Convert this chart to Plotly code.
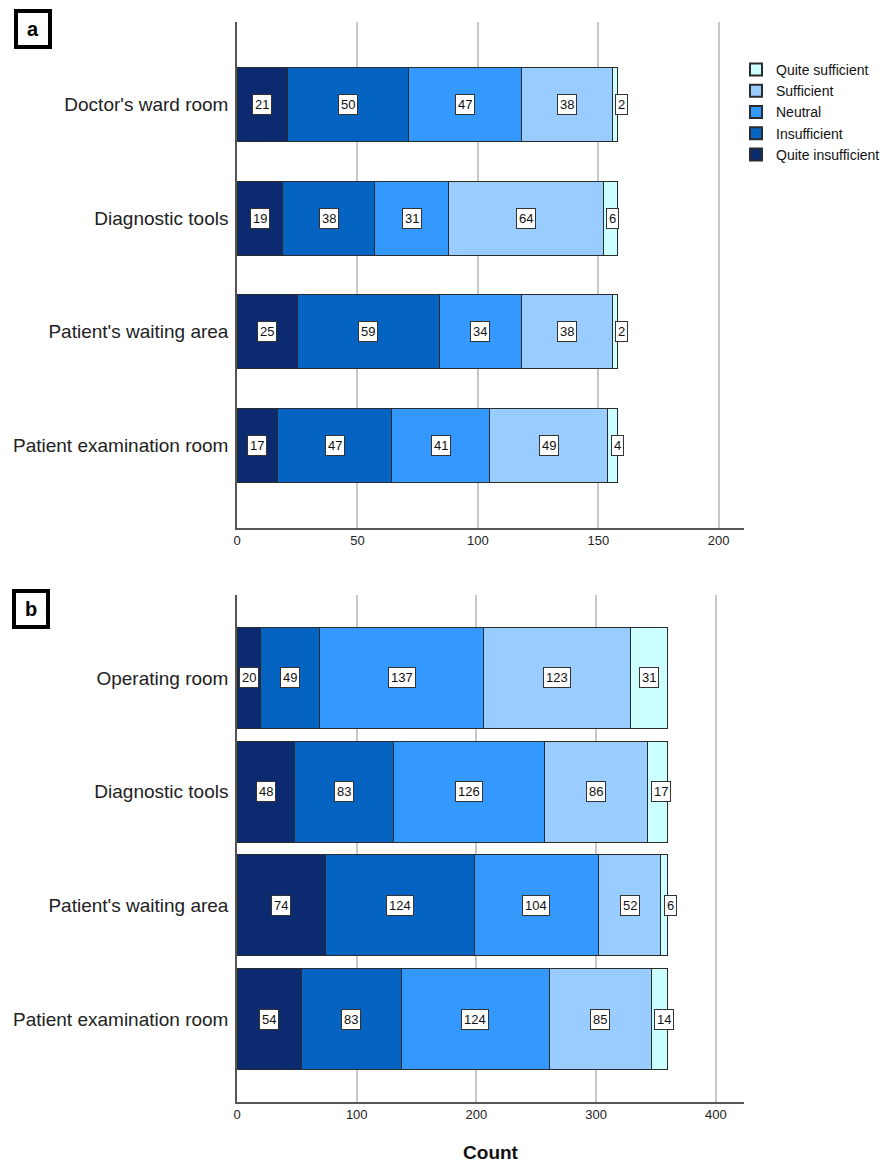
import plotly.graph_objects as go

levels = ["Quite insufficient", "Insufficient", "Neutral", "Sufficient", "Quite sufficient"]
colors = ["#0B2A6F", "#0563C1", "#3399FF", "#99CCFF", "#CCFFFF"]

cats_a = ["Doctor's ward room", "Diagnostic tools", "Patient's waiting area", "Patient examination room"]
vals_a = {
    "Quite insufficient": [21, 19, 25, 17],
    "Insufficient": [50, 38, 59, 47],
    "Neutral": [47, 31, 34, 41],
    "Sufficient": [38, 64, 38, 49],
    "Quite sufficient": [2, 6, 2, 4],
}

cats_b = ["Operating room", "Diagnostic tools", "Patient's waiting area", "Patient examination room"]
vals_b = {
    "Quite insufficient": [20, 48, 74, 54],
    "Insufficient": [49, 83, 124, 83],
    "Neutral": [137, 126, 104, 124],
    "Sufficient": [123, 86, 52, 85],
    "Quite sufficient": [31, 17, 6, 14],
}

ticks_a = [0, 50, 100, 150, 200]
ticks_b = [0, 100, 200, 300, 400]

# page has an 8px body offset; margins compensate
OFF = 8
W, H = 893, 1165
ML, MR, MT, MB = 237 - OFF, 893 - 744 + OFF, 22 - OFF, 1165 - 1102 + OFF
plot_w = W - ML - MR
plot_h = H - MT - MB
range_a = [0, 210.5]
range_b = [0, 423.5]
FONT = "Liberation Sans, Arial"

fig = go.Figure()
annotations = []

def add_panel(cats, vals, xaxis, yaxis, showlegend, width, xr):
    scale = plot_w / (xr[1] - xr[0])
    cum = [0] * len(cats)
    for lvl, col in zip(levels, colors):
        v = vals[lvl]
        fig.add_trace(go.Bar(
            y=cats, x=v, orientation="h", name=lvl,
            marker=dict(color=col, line=dict(color="#2b2b2b", width=1)),
            width=width, xaxis=xaxis, yaxis=yaxis, showlegend=showlegend,
            legendgroup=lvl, hoverinfo="x+name",
        ))
        for i, c in enumerate(cats):
            mid = cum[i] + v[i] / 2
            lw = 7.5 * len(str(v[i])) + 7
            segw = v[i] * scale
            xs = max(0, (lw - segw) / 2 + 2) if segw < lw else 0
            annotations.append(dict(
                x=mid, y=c, xref=xaxis, yref=yaxis, text=str(v[i]),
                showarrow=False, xshift=xs,
                font=dict(family=FONT, size=13, color="#111"),
                bgcolor="white", bordercolor="#333", borderwidth=1, borderpad=2,
            ))
            cum[i] += v[i]

add_panel(cats_a, vals_a, "x", "y", True, 0.65, range_a)
add_panel(cats_b, vals_b, "x2", "y2", False, 0.89, range_b)

dom_a = [1 - 506 / plot_h, 1]
dom_b = [0, 1 - 573 / plot_h]

axis_common = dict(
    showgrid=True, gridcolor="#c8c8c8", gridwidth=1.5,
    showline=True, linecolor="#555", linewidth=1.5, automargin=False,
    zeroline=False, ticks="", tickfont=dict(family=FONT, size=13, color="#222"),
)
yaxis_common = dict(
    type="category", showgrid=False, showline=True, linecolor="#555", linewidth=1.5,
    zeroline=False, ticks="", ticklabelstandoff=3, automargin=False,
    tickfont=dict(family=FONT, size=19, color="#222"),
    range=[3.73, -0.73],
)

fig.update_layout(
    width=W, height=H,
    margin=dict(l=ML, r=MR, t=MT, b=MB),
    barmode="stack", plot_bgcolor="white", paper_bgcolor="white",
    xaxis=dict(domain=[0, 1], anchor="y", range=range_a, tickvals=ticks_a, **axis_common),
    yaxis=dict(domain=dom_a, anchor="x", categoryorder="array", categoryarray=cats_a, **yaxis_common),
    xaxis2=dict(domain=[0, 1], anchor="y2", range=range_b, tickvals=ticks_b,
                title=dict(text="<b>Count</b>", font=dict(family=FONT, size=19, color="#111"), standoff=24),
                **axis_common),
    yaxis2=dict(domain=dom_b, anchor="x2", categoryorder="array", categoryarray=cats_b, **yaxis_common),
    legend=dict(
        x=(736 - OFF - ML) / plot_w, y=1 - (46 - MT) / plot_h, xanchor="left", yanchor="top",
        traceorder="reversed", font=dict(family=FONT, size=14, color="#111"),
        itemsizing="constant", tracegroupgap=0, bgcolor="rgba(0,0,0,0)",
    ),
    showlegend=True,
    annotations=annotations,
)

# Panel letters (page centers)
for letter, cx, cy in [("a", 33, 29), ("b", 31, 609)]:
    fig.add_annotation(
        x=(cx - OFF - ML) / plot_w, y=1 - (cy - OFF - MT) / plot_h, xref="paper", yref="paper",
        xanchor="center", yanchor="middle",
        text="<b>" + letter + "</b>", showarrow=False,
        font=dict(family=FONT, size=20, color="black"),
        bgcolor="white", bordercolor="black", borderwidth=4, borderpad=4,
        width=22, height=24,
    )

fig.write_html("out.html")
